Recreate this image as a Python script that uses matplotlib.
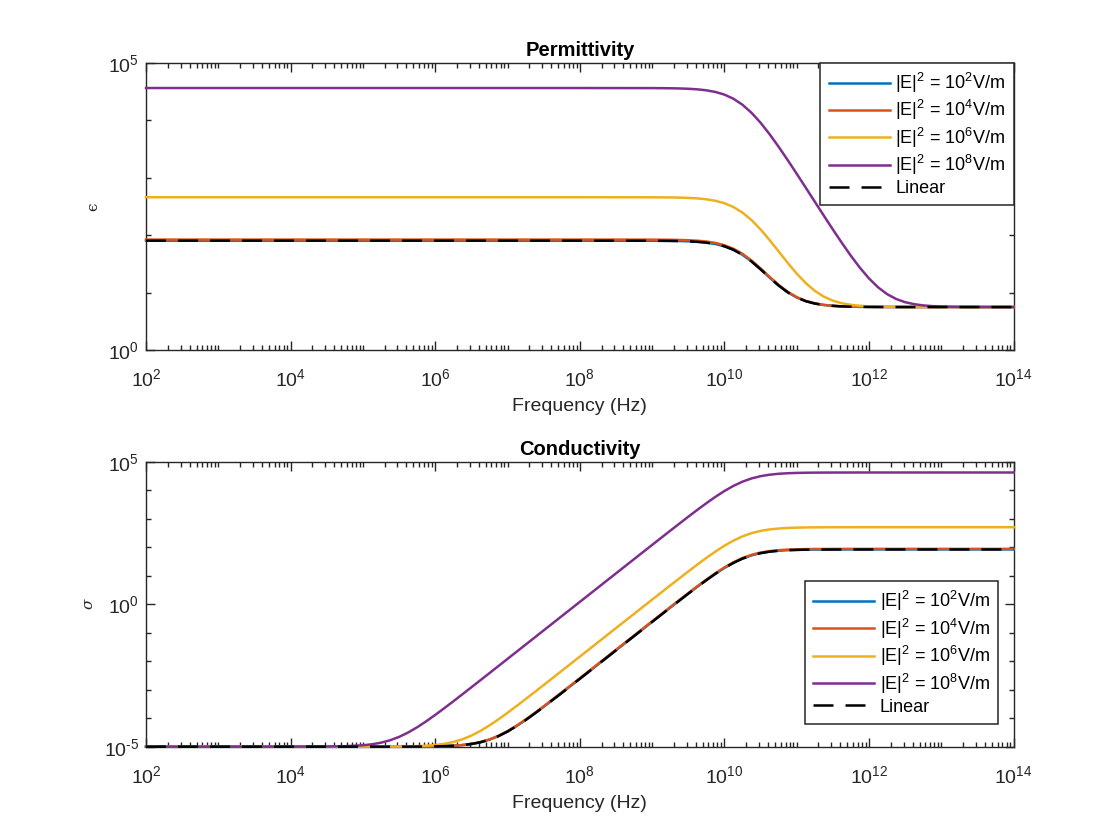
import numpy as np
import matplotlib
matplotlib.use('Agg')
import matplotlib.pyplot as plt
from matplotlib.ticker import FixedLocator, NullFormatter, FuncFormatter

plt.rcParams['font.family'] = ['Liberation Sans', 'DejaVu Sans']
plt.rcParams['mathtext.fontset'] = 'custom'
plt.rcParams['mathtext.rm'] = 'Liberation Sans'
plt.rcParams['mathtext.it'] = 'Liberation Sans:italic'
plt.rcParams['mathtext.bf'] = 'Liberation Sans:bold'
plt.rcParams['axes.unicode_minus'] = False

# frequency exponents (log10 Hz) and curve values (log10)
f_eps_exp = [2, 4, 6, 8, 9, 9.25, 9.375, 9.5, 9.625, 9.75, 9.875, 10, 10.125, 10.25,
             10.375, 10.5, 10.625, 10.75, 10.875, 11, 11.125, 11.25, 11.375, 11.5,
             11.625, 11.75, 11.875, 12, 12.125, 12.25, 12.375, 12.5, 12.625, 12.75,
             12.875, 13, 13.125, 13.25, 13.375, 13.5, 14]
eps_e2 = [1.903, 1.903, 1.903, 1.903, 1.902, 1.8996, 1.8969, 1.8922, 1.8838, 1.8694,
          1.8452, 1.8057, 1.7446, 1.6567, 1.5414, 1.4052, 1.2604, 1.1226, 1.0048,
          0.9142, 0.8506, 0.8092, 0.7837, 0.7686, 0.7598, 0.7547, 0.7519, 0.7503,
          0.7494, 0.7488, 0.7486, 0.7482, 0.7482, 0.7482, 0.7482, 0.7482, 0.7482,
          0.7482, 0.7482, 0.7482, 0.7482]
eps_e4 = [1.9222, 1.9222, 1.9222, 1.9222, 1.9211, 1.9187, 1.916, 1.9112, 1.9028, 1.8885,
          1.8642, 1.8245, 1.7631, 1.6748, 1.5587, 1.4212, 1.2747, 1.1346, 1.0141,
          0.9208, 0.8549, 0.8119, 0.7854, 0.7695, 0.7603, 0.755, 0.7521, 0.7504,
          0.7494, 0.7488, 0.7486, 0.7482, 0.7482, 0.7482, 0.7482, 0.7482, 0.7482,
          0.7482, 0.7482, 0.7482, 0.7482]
eps_e6 = [2.6595, 2.6595, 2.6595, 2.6595, 2.6583, 2.6558, 2.6529, 2.6479, 2.639, 2.6237,
          2.5978, 2.5553, 2.489, 2.3921, 2.2613, 2.0995, 1.9142, 1.7164, 1.5179,
          1.3304, 1.1651, 1.0302, 0.9291, 0.8592, 0.8142, 0.7865, 0.7702, 0.7607,
          0.7553, 0.7522, 0.7504, 0.7495, 0.7489, 0.7486, 0.7484, 0.7482, 0.7482,
          0.7482, 0.7482, 0.7482, 0.7482]
eps_e8 = [4.56, 4.56, 4.56, 4.56, 4.5587, 4.5559, 4.5527, 4.5471, 4.5373, 4.5204,
          4.4919, 4.4454, 4.3733, 4.2689, 4.1291, 3.956, 3.7562, 3.5374, 3.3063,
          3.0678, 2.8256, 2.5818, 2.3387, 2.0983, 1.8637, 1.6392, 1.4308, 1.2459,
          1.092, 0.9732, 0.8886, 0.8326, 0.7977, 0.7767, 0.7644, 0.7574, 0.7534,
          0.7511, 0.7498, 0.7491, 0.7483]
eps_lin = [1.903, 1.903, 1.903, 1.903, 1.902, 1.8996, 1.8969, 1.8922, 1.8838, 1.8694,
           1.8452, 1.8057, 1.7446, 1.6567, 1.5414, 1.4052, 1.2604, 1.1226, 1.0048,
           0.9142, 0.8506, 0.8092, 0.7837, 0.7686, 0.7598, 0.7547, 0.7519, 0.7503,
           0.7494, 0.7488, 0.7486, 0.7482, 0.7482, 0.7482, 0.7482, 0.7482, 0.7482,
           0.7482, 0.7482, 0.7482, 0.7482]

f_sig_exp = [2, 3, 4, 4.5, 4.75, 5, 5.125, 5.25, 5.375, 5.5, 5.625, 5.75, 5.875, 6,
             6.125, 6.25, 6.375, 6.5, 6.625, 6.75, 6.875, 7, 7.125, 7.25, 7.375, 7.5,
             7.75, 8, 8.5, 9, 9.25, 9.5, 9.625, 9.75, 9.875, 10, 10.125, 10.25, 10.375,
             10.5, 10.625, 10.75, 10.875, 11, 11.125, 11.25, 11.5, 11.75, 12, 13, 14]
sig_e2 = [-5, -5, -5, -5, -5, -4.9999, -4.9998, -4.9997, -4.9994, -4.999, -4.9982,
          -4.9967, -4.9942, -4.9897, -4.9819, -4.9682, -4.945, -4.9066, -4.8457,
          -4.7548, -4.6291, -4.4686, -4.2785, -4.0662, -3.8389, -3.6022, -3.1143,
          -2.6182, -1.62, -0.621, -0.124, 0.368, 0.6083, 0.842, 1.0647, 1.27, 1.4502,
          1.599, 1.7114, 1.791, 1.8426, 1.875, 1.894, 1.905, 1.9116, 1.915, 1.9185,
          1.9195, 1.92, 1.92, 1.92]
sig_e4 = [-5, -5, -5, -5, -5, -4.9999, -4.9998, -4.9997, -4.9994, -4.9989, -4.9981,
          -4.9966, -4.9939, -4.9892, -4.981, -4.9668, -4.9426, -4.9027, -4.8396,
          -4.7461, -4.6175, -4.4545, -4.2623, -4.0485, -3.8203, -3.583, -3.0946,
          -2.5983, -1.6, -0.601, -0.104, 0.388, 0.6283, 0.862, 1.0847, 1.29, 1.4702,
          1.619, 1.7314, 1.811, 1.8626, 1.895, 1.914, 1.925, 1.9316, 1.935, 1.9385,
          1.9395, 1.94, 1.94, 1.94]
sig_e6 = [-5, -5, -5, -4.9999, -4.9998, -4.9994, -4.9989, -4.998, -4.9965, -4.9938,
          -4.989, -4.9806, -4.966, -4.9416, -4.9005, -4.8365, -4.7417, -4.6116, -4.4473,
          -4.2541, -4.0396, -3.811, -3.5735, -3.3306, -3.0847, -2.8371, -2.3391,
          -1.8397, -0.84, 0.159, 0.656, 1.148, 1.3883, 1.622, 1.8447, 2.05, 2.2302,
          2.3785, 2.4914, 2.5707, 2.6226, 2.6548, 2.674, 2.6852, 2.6916, 2.6953,
          2.6985, 2.6995, 2.7, 2.7, 2.7]
sig_e8 = [-5, -5, -4.9995, -4.9948, -4.9838, -4.9507, -4.9159, -4.8601, -4.7757,
          -4.6571, -4.5033, -4.3186, -4.1101, -3.8853, -3.6501, -3.4087, -3.1636,
          -2.9165, -2.668, -2.4189, -2.1694, -1.9196, -1.6698, -1.4199, -1.17, -0.92,
          -0.42, 0.08, 1.08, 2.079, 2.576, 3.068, 3.3083, 3.542, 3.7647, 3.97, 4.1502,
          4.2985, 4.4114, 4.4907, 4.5426, 4.5748, 4.594, 4.6052, 4.6116, 4.6153,
          4.6185, 4.6195, 4.62, 4.62, 4.62]
sig_lin = [-5, -5, -5, -5, -5, -4.9999, -4.9998, -4.9997, -4.9994, -4.999, -4.9982,
           -4.9967, -4.9942, -4.9897, -4.9819, -4.9682, -4.945, -4.9066, -4.8457,
           -4.7548, -4.6291, -4.4686, -4.2785, -4.0662, -3.8389, -3.6022, -3.1143,
           -2.6182, -1.62, -0.621, -0.124, 0.368, 0.6083, 0.842, 1.0647, 1.27, 1.4502,
           1.599, 1.7114, 1.791, 1.8426, 1.875, 1.894, 1.905, 1.9116, 1.915, 1.9185,
           1.9195, 1.92, 1.92, 1.92]

labels = [r'|E|$^2$ = 10$^2$V/m', r'|E|$^2$ = 10$^4$V/m',
          r'|E|$^2$ = 10$^6$V/m', r'|E|$^2$ = 10$^8$V/m', 'Linear']
colors = ['#0072BD', '#D95319', '#EDB120', '#7E2F8E']
axc = '#262626'

fig = plt.figure(figsize=(11.2, 8.4), dpi=100)
ax1 = fig.add_axes([0.1304, 0.5833, 0.7746, 0.342])
ax2 = fig.add_axes([0.1304, 0.1111, 0.7746, 0.3393])


def draw(ax, fexp, series, lin):
    f = 10.0 ** np.array(fexp)
    for vals, c, lab in zip(series, colors, labels):
        ax.plot(f, 10.0 ** np.array(vals), color=c, lw=1.8, label=lab,
                clip_on=False, zorder=3)
    ax.plot(f, 10.0 ** np.array(lin), color='black', lw=1.8, ls=(0, (8, 4.8)),
            label=labels[4], clip_on=False, zorder=3)


def pow10(v, pos):
    # hyphen-style exponent like matlab, e.g. 10^-5
    return r'10$^{\text{%d}}$' % int(round(np.log10(v)))


draw(ax1, f_eps_exp, [eps_e2, eps_e4, eps_e6, eps_e8], eps_lin)
draw(ax2, f_sig_exp, [sig_e2, sig_e4, sig_e6, sig_e8], sig_lin)

xmajor = 10.0 ** np.arange(2, 15, 2)
xminor = [k * 10.0 ** d for d in range(2, 14) for k in range(1, 10)]
for ax, ylim, ymaj, ymin in [
        (ax1, (1, 1e5), [1, 1e5], [1e1, 1e2, 1e3, 1e4]),
        (ax2, (1e-5, 1e5), [1e-5, 1, 1e5], [10.0 ** d for d in range(-4, 5) if d != 0])]:
    ax.set_xscale('log')
    ax.set_yscale('log')
    ax.set_xlim(1e2, 1e14)
    ax.set_ylim(*ylim)
    ax.xaxis.set_major_locator(FixedLocator(xmajor))
    ax.xaxis.set_minor_locator(FixedLocator(xminor))
    ax.yaxis.set_major_locator(FixedLocator(ymaj))
    ax.yaxis.set_minor_locator(FixedLocator(ymin))
    ax.xaxis.set_major_formatter(FuncFormatter(pow10))
    ax.yaxis.set_major_formatter(FuncFormatter(pow10))
    ax.xaxis.set_minor_formatter(NullFormatter())
    ax.yaxis.set_minor_formatter(NullFormatter())
    ax.tick_params(which='both', direction='in', top=True, right=True,
                   color=axc, labelcolor=axc, labelsize=14, width=1.0)
    ax.tick_params(which='major', length=6.3)
    ax.tick_params(which='minor', length=3.5)
    ax.tick_params(axis='x', which='major', pad=13)
    ax.tick_params(axis='y', which='major', pad=5)
    for s in ax.spines.values():
        s.set_color(axc)
        s.set_linewidth(1.0)
    ax.set_xlabel('Frequency (Hz)', fontsize=14, color=axc, labelpad=6)

ax1.set_title('Permittivity', fontsize=14.5, fontweight='bold', color='black', pad=5)
ax2.set_title('Conductivity', fontsize=14.5, fontweight='bold', color='black', pad=5)
ax1.set_ylabel('ϵ', family=['DejaVu Serif'], fontsize=11, color=axc, labelpad=6)
ax2.set_ylabel('σ', family=['DejaVu Serif'], fontstyle='italic', fontsize=11,
               color=axc, labelpad=6)

leg_kw = dict(fontsize=13, frameon=True, fancybox=False, framealpha=1,
              edgecolor=axc, handlelength=3.4, handletextpad=0.3,
              labelspacing=0.18, borderpad=0.45, borderaxespad=0)
l1 = ax1.legend(loc='upper right', bbox_to_anchor=(1.0, 1.0), **leg_kw)
l2 = ax2.legend(loc='lower right', bbox_to_anchor=(0.982, 0.08), **leg_kw)
for lg in (l1, l2):
    lg.get_frame().set_linewidth(1.1)
    lg.set_zorder(10)

fig.savefig('out.png', dpi=100, facecolor='white')
